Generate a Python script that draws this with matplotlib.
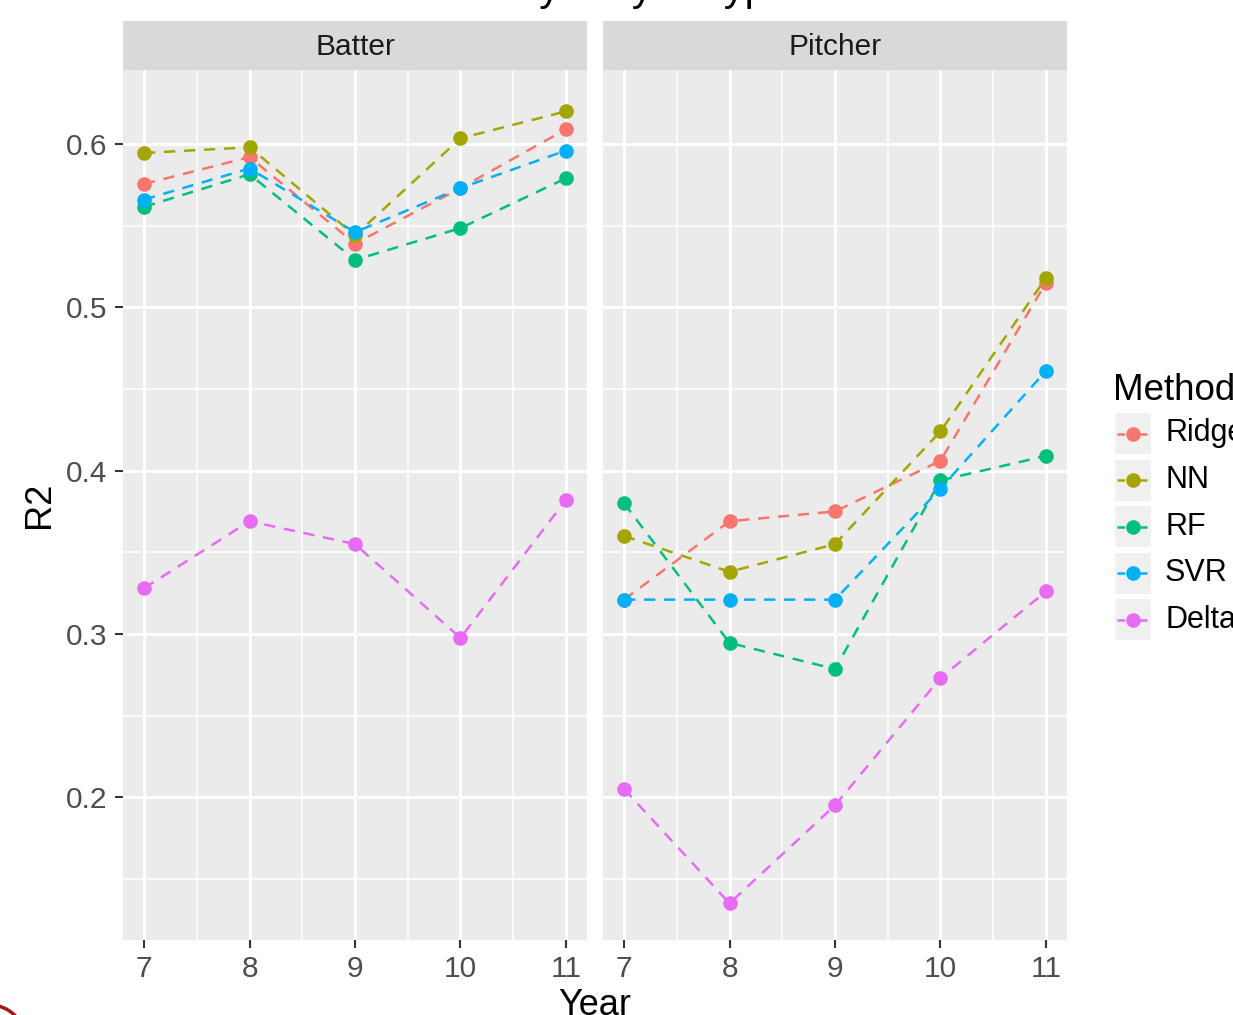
import matplotlib
matplotlib.use("Agg")
import matplotlib.pyplot as plt
import matplotlib.ticker as mticker
from matplotlib.patches import Rectangle, Arc
from matplotlib.lines import Line2D

plt.rcParams["font.family"] = ["Liberation Sans", "DejaVu Sans"]

W, H, DPI = 1233, 1015, 100

# ---------------------------------------------------------------
# data
# ---------------------------------------------------------------
years = [7, 8, 9, 10, 11]
methods = ["Ridge", "NN", "RF", "SVR", "Delta"]
colors = ["#F8766D", "#A3A500", "#00BF7D", "#00B0F6", "#E76BF3"]
panels = ["Batter", "Pitcher"]

batter_ridge = [0.5755, 0.592, 0.539, 0.573, 0.609]
batter_nn = [0.5945, 0.598, 0.544, 0.6035, 0.620]
batter_rf = [0.5615, 0.5815, 0.529, 0.5485, 0.579]
batter_svr = [0.566, 0.585, 0.546, 0.573, 0.596]
batter_delta = [0.328, 0.369, 0.355, 0.2975, 0.382]

pitcher_ridge = [0.321, 0.369, 0.375, 0.406, 0.515]
pitcher_nn = [0.360, 0.338, 0.355, 0.424, 0.518]
pitcher_rf = [0.380, 0.2945, 0.2785, 0.394, 0.409]
pitcher_svr = [0.321, 0.321, 0.321, 0.389, 0.461]
pitcher_delta = [0.205, 0.135, 0.195, 0.273, 0.326]

y_ticks = [0.2, 0.3, 0.4, 0.5, 0.6]
y_minor = [0.15, 0.25, 0.35, 0.45, 0.55]

series = {
    "Batter": [batter_ridge, batter_nn, batter_rf, batter_svr, batter_delta],
    "Pitcher": [pitcher_ridge, pitcher_nn, pitcher_rf, pitcher_svr, pitcher_delta],
}


def fx(px):
    return px / W


def fy(py):
    return 1 - py / H


fig = plt.figure(figsize=(W / DPI, H / DPI), dpi=DPI)

panel_left = [123, 603]
panel_w = 464
panel_top, panel_bot = 70, 940
strip_h = 49

for i, name in enumerate(panels):
    ax = fig.add_axes([fx(panel_left[i]), fy(panel_bot),
                       panel_w / W, (panel_bot - panel_top) / H])
    ax.set_facecolor("#EBEBEB")
    for s in ax.spines.values():
        s.set_visible(False)

    ax.set_xlim(6.8, 11.2)
    ax.set_ylim(0.11255, 0.64532)
    ax.set_xticks(years)
    ax.set_xticks([7.5, 8.5, 9.5, 10.5], minor=True)
    ax.set_yticks(y_ticks)
    ax.set_yticks(y_minor, minor=True)
    ax.yaxis.set_major_formatter(mticker.FormatStrFormatter("%.1f"))

    ax.grid(which="major", color="white", linewidth=2.2)
    ax.grid(which="minor", color="white", linewidth=1.1)
    ax.set_axisbelow(True)

    ax.tick_params(which="major", length=6, width=1.5, color="#333333",
                   labelsize=21.5, labelcolor="#4D4D4D", pad=5)
    ax.tick_params(which="minor", length=0)
    if i == 1:
        ax.tick_params(axis="y", which="both", left=False, labelleft=False)

    for vals, c in zip(series[name], colors):
        ax.plot(years, vals, color=c, linewidth=1.8, dashes=(4.5, 3.5),
                marker="o", markersize=9.5, zorder=3)

    # facet strip
    ax.add_patch(Rectangle((0, 1), 1, strip_h / (panel_bot - panel_top),
                           transform=ax.transAxes, clip_on=False,
                           facecolor="#D9D9D9", edgecolor="none"))
    ax.text(0.5, 1 + (strip_h / 2 - 2) / (panel_bot - panel_top), name,
            transform=ax.transAxes, ha="center", va="center",
            fontsize=21.5, color="#1A1A1A")

# axis titles
fig.text(fx(40), fy(505), "R2", rotation=90, ha="center", va="center",
         fontsize=26, color="black")
fig.text(fx(595), fy(988), "Year", ha="center", va="top",
         fontsize=26, color="black")

# title, mostly cut off by the top edge
fig.text(fx(556), 1.0, "Test R2 of Methods by Player Type and Year",
         ha="center", va="baseline", fontsize=30, color="black")

# legend
fig.text(fx(1113), fy(400), "Method", ha="left", va="baseline",
         fontsize=26.5, color="black")
key_y0 = 433.5
key_step = 46.6
for k, (m, c) in enumerate(zip(methods, colors)):
    cy = key_y0 + k * key_step
    fig.add_artist(Rectangle((fx(1115), fy(cy + 20.5)), 36 / W, 41 / H,
                             transform=fig.transFigure,
                             facecolor="#F0F0F0", edgecolor="none"))
    fig.add_artist(Line2D([fx(1117), fx(1150)], [fy(cy), fy(cy)],
                          transform=fig.transFigure, color=c,
                          linewidth=1.8, dashes=(3, 1.5)))
    fig.add_artist(Line2D([fx(1133)], [fy(cy)], transform=fig.transFigure,
                          color=c, marker="o", markersize=9.5))
    fig.text(fx(1165), fy(cy), m, ha="left", va="center",
             fontsize=22, color="black")

# stray screenshot mark in the corner
fig.add_artist(Arc((fx(-10), fy(1040)), 70 / W, 70 / H, theta1=0, theta2=90,
                   transform=fig.transFigure, color="#A01818", linewidth=2.5))

fig.savefig("out.png", dpi=DPI)
